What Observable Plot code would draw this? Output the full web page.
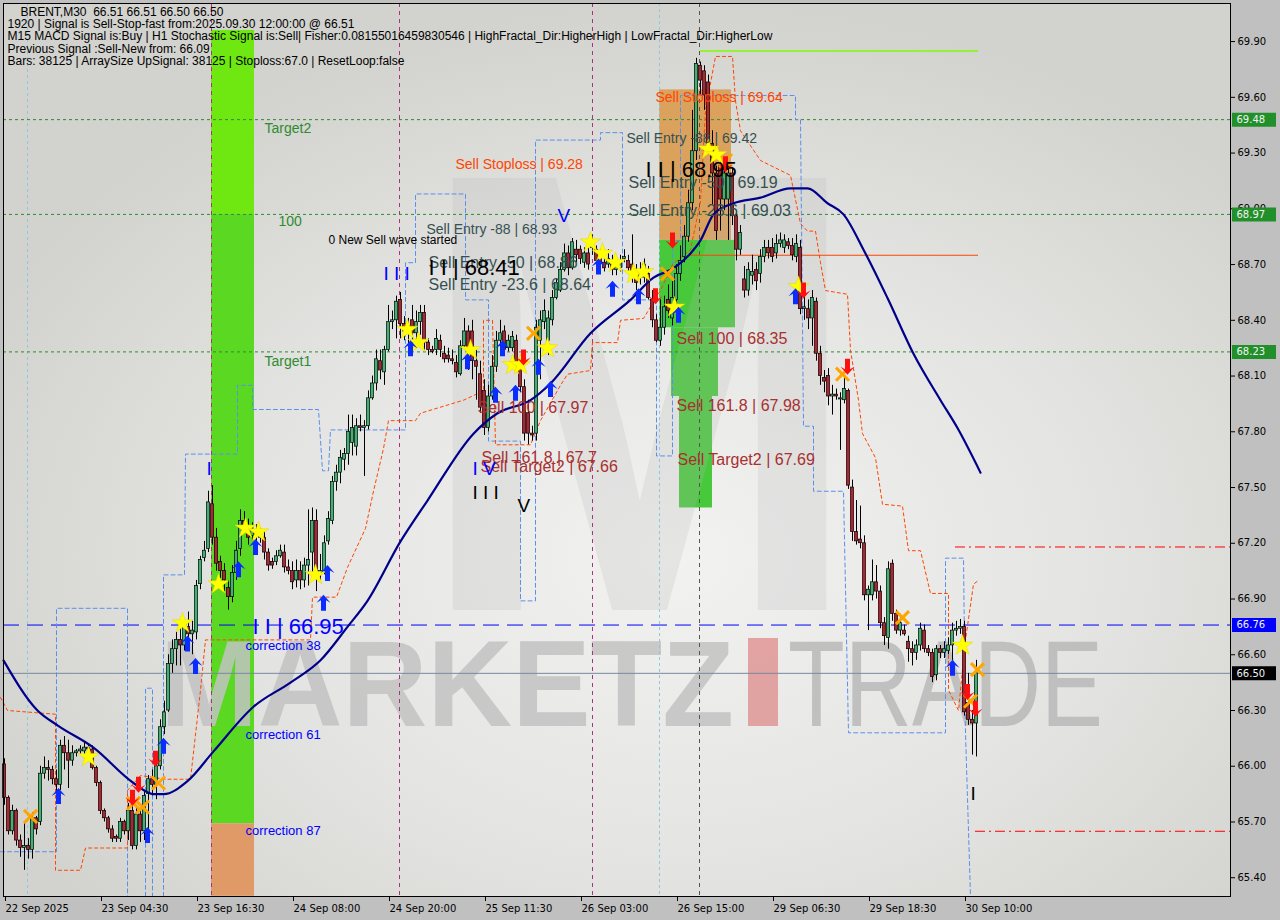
<!DOCTYPE html>
<html><head><meta charset="utf-8">
<script src="https://cdn.jsdelivr.net/npm/d3@7"></script>
<script src="https://cdn.jsdelivr.net/npm/@observablehq/plot@0.6"></script>
<style>html,body{margin:0;padding:0;background:#c0c0c0;overflow:hidden;width:1280px;height:920px}#chart{position:absolute;left:0;top:0}</style>
</head><body><div id="chart"></div>
<script>
// ---------- DATA ----------
const timeLabels = ["22 Sep 2025","23 Sep 04:30","23 Sep 16:30","24 Sep 08:00","24 Sep 20:00","25 Sep 11:30","26 Sep 03:00","26 Sep 15:00","29 Sep 06:30","29 Sep 18:30","30 Sep 10:00"];
const timeTickBars = [0,24,48,72,96,120,144,168,192,216,240];
const priceTicks = [69.9,69.6,69.3,69.0,68.7,68.4,68.1,67.8,67.5,67.2,66.9,66.6,66.3,66.0,65.7,65.4];

const open = [66.01,65.83,65.65,65.76,65.60,65.56,65.57,65.55,65.72,65.70,
65.96,65.99,65.98,65.93,65.90,66.11,66.07,66.03,66.07,66.08,
66.08,66.10,66.09,65.99,65.91,65.76,65.72,65.66,65.62,65.61,
65.70,65.65,65.76,65.57,65.74,65.65,65.85,65.93,65.90,66.00,
66.21,66.30,66.55,66.63,66.68,66.65,66.75,66.71,66.72,66.98,
67.12,67.17,67.41,67.23,67.10,67.05,66.96,66.91,67.04,67.17,
67.32,67.29,67.24,67.27,67.24,67.23,67.15,67.10,67.10,67.13,
67.15,67.07,67.05,67.00,67.05,67.00,67.08,67.15,67.32,67.03,
67.05,67.21,67.32,67.53,67.58,67.65,67.68,67.74,67.72,67.83,
67.82,67.83,67.98,68.06,68.18,68.12,68.24,68.39,68.40,68.51,
68.38,68.34,68.40,68.33,68.39,68.44,68.28,68.24,68.24,68.29,
68.22,68.21,68.19,68.17,68.11,68.26,68.34,68.34,68.18,68.11,
68.02,67.82,67.99,68.15,68.29,68.34,68.25,68.25,68.29,68.18,
68.04,67.90,67.79,67.79,68.29,68.39,68.29,68.40,68.52,68.56,
68.67,68.76,68.68,68.78,68.78,68.71,68.76,68.79,68.78,68.73,
68.71,68.70,68.70,68.67,68.68,68.73,68.72,68.70,68.63,68.65,
68.63,68.65,68.51,68.40,68.29,68.36,68.51,68.41,68.51,68.65,
68.74,68.85,69.03,69.31,69.77,69.74,69.68,69.35,69.19,69.23,
69.05,69.05,69.19,68.96,68.78,68.62,68.56,68.64,68.67,68.65,
68.74,68.79,68.79,68.76,68.81,68.79,68.82,68.80,68.74,68.79,
68.46,68.46,68.41,68.50,68.22,68.09,68.10,67.99,68.00,67.98,
67.97,68.02,67.50,67.26,67.22,67.20,66.92,66.92,66.99,66.94,
66.77,66.69,67.09,66.82,66.73,66.73,66.67,66.63,66.61,66.65,
66.73,66.63,66.61,66.49,66.63,66.61,66.62,66.65,66.73,66.74,
66.75,66.34,66.25,66.23];
const high = [66.04,65.84,65.79,65.77,65.63,65.69,65.61,65.75,65.73,66.00,
66.05,66.03,66.00,65.98,66.14,66.16,66.14,66.11,66.09,66.11,
66.13,66.12,66.11,66.00,65.92,65.77,65.73,65.68,65.63,65.72,
65.71,65.80,65.79,65.78,65.77,65.87,65.95,65.98,66.06,66.25,
66.35,66.60,66.68,66.72,66.76,66.78,66.83,66.78,67.00,67.13,
67.21,67.48,67.51,67.28,67.13,67.09,67.00,67.08,67.21,67.38,
67.37,67.33,67.31,67.30,67.28,67.27,67.17,67.12,67.16,67.19,
67.19,67.11,67.10,67.11,67.10,67.12,67.38,67.39,67.38,67.14,
67.24,67.37,67.56,67.62,67.70,67.71,67.89,67.89,67.87,67.89,
67.86,68.02,68.10,68.24,68.24,68.26,68.48,68.45,68.53,68.55,
68.42,68.41,68.48,68.45,68.48,68.48,68.30,68.26,68.35,68.32,
68.26,68.25,68.24,68.21,68.29,68.41,68.37,68.40,68.24,68.18,
68.08,68.05,68.21,68.34,68.40,68.37,68.32,68.34,68.32,68.21,
68.08,67.97,67.83,68.40,68.45,68.51,68.45,68.56,68.62,68.71,
68.81,68.80,68.84,68.83,68.80,68.79,68.83,68.86,68.80,68.78,
68.75,68.78,68.75,68.73,68.75,68.78,68.75,68.86,68.70,68.71,
68.73,68.69,68.56,68.43,68.51,68.53,68.59,68.61,68.70,68.80,
68.91,69.10,69.53,69.81,69.79,69.77,69.72,69.42,69.23,69.26,
69.23,69.23,69.22,68.99,68.91,68.69,68.71,68.75,68.71,68.78,
68.83,68.83,68.84,68.86,68.87,68.86,68.84,68.84,68.86,68.83,
68.53,68.51,68.56,68.52,68.26,68.13,68.14,68.05,68.03,68.01,
68.10,68.03,67.54,67.43,67.40,67.24,66.97,67.11,67.08,66.97,
66.80,67.10,67.11,66.84,66.81,66.76,66.70,66.67,66.68,66.77,
66.76,66.65,66.63,66.65,66.65,66.67,66.69,66.77,66.78,66.79,
66.78,66.50,66.30,66.57];
const low = [65.79,65.63,65.63,65.57,65.51,65.44,65.50,65.50,65.63,65.68,
65.93,65.92,65.90,65.82,65.87,65.98,65.88,66.00,66.05,66.06,
66.04,66.07,65.98,65.89,65.74,65.70,65.64,65.59,65.59,65.59,
65.63,65.60,65.55,65.55,65.59,65.60,65.65,65.84,65.82,65.98,
66.17,66.29,66.50,66.54,66.54,66.62,66.65,66.60,66.68,66.95,
67.10,67.15,67.19,67.05,67.01,66.94,66.84,66.88,67.00,67.13,
67.26,67.19,67.21,67.21,67.20,67.11,67.05,67.06,67.08,67.12,
67.04,67.03,66.95,66.96,66.95,66.96,66.97,67.01,66.94,67.00,
67.03,67.19,67.30,67.48,67.52,67.59,67.62,67.67,67.67,67.80,
67.56,67.81,67.97,68.02,68.08,68.05,68.23,68.35,68.30,68.30,
68.29,68.26,68.26,68.29,68.32,68.24,68.21,68.22,68.21,68.20,
68.17,68.17,68.16,68.09,68.10,68.24,68.13,68.08,67.97,67.90,
67.78,67.80,67.97,68.12,68.26,68.21,68.23,68.23,68.14,68.01,
67.75,67.73,67.75,67.75,68.08,68.35,68.21,68.37,68.51,68.55,
68.66,68.64,68.67,68.71,68.70,68.68,68.67,68.75,68.70,68.67,
68.66,68.68,68.64,68.64,68.66,68.71,68.66,68.60,68.56,68.59,
68.60,68.51,68.36,68.28,68.26,68.32,68.41,68.37,68.48,68.61,
68.71,68.82,68.99,69.26,69.61,69.53,69.31,69.02,68.83,68.88,
68.99,68.83,68.91,68.72,68.75,68.52,68.53,68.59,68.56,68.60,
68.71,68.73,68.71,68.73,68.79,68.76,68.78,68.72,68.71,68.43,
68.40,68.35,68.26,68.18,68.05,68.01,67.94,67.89,67.97,67.70,
67.95,67.49,67.21,67.19,67.17,66.89,66.73,66.89,66.90,66.74,
66.65,66.63,66.78,66.71,66.70,66.70,66.56,66.54,66.57,66.62,
66.61,66.59,66.45,66.46,66.58,66.58,66.60,66.57,66.70,66.71,
66.27,66.22,66.06,66.05];
const close = [65.83,65.65,65.76,65.60,65.56,65.57,65.55,65.72,65.66,65.96,
65.99,65.98,65.93,65.90,66.11,66.07,66.03,66.07,66.08,66.09,
66.10,66.09,65.99,65.91,65.76,65.72,65.66,65.61,65.61,65.70,
65.65,65.76,65.57,65.74,65.65,65.84,65.93,65.90,66.00,66.21,
66.29,66.55,66.63,66.68,66.65,66.75,66.71,66.73,66.97,67.11,
67.16,67.42,67.23,67.09,67.05,67.00,66.91,67.04,67.16,67.32,
67.29,67.23,67.27,67.24,67.23,67.15,67.08,67.08,67.13,67.16,
67.07,67.05,66.99,67.05,67.00,67.08,67.11,67.32,67.04,67.05,
67.20,67.33,67.53,67.58,67.66,67.68,67.80,67.82,67.83,67.82,
67.83,67.98,68.06,68.19,68.13,68.24,68.39,68.40,68.50,68.38,
68.34,68.37,68.33,68.39,68.44,68.28,68.24,68.23,68.30,68.24,
68.19,68.19,68.18,68.12,68.26,68.34,68.25,68.18,68.15,67.93,
67.82,67.99,68.15,68.29,68.33,68.24,68.29,68.31,68.17,68.04,
67.79,67.79,67.78,68.36,68.40,68.45,68.41,68.52,68.60,68.67,
68.76,68.68,68.82,68.75,68.73,68.76,68.70,68.81,68.72,68.71,
68.68,68.73,68.67,68.70,68.72,68.74,68.68,68.63,68.60,68.63,
68.70,68.52,68.40,68.29,68.36,68.47,68.45,68.52,68.65,68.72,
68.85,69.03,69.31,69.78,69.69,69.61,69.35,69.19,68.88,69.05,
69.19,69.19,68.96,68.78,68.87,68.56,68.67,68.66,68.61,68.74,
68.79,68.76,68.74,68.81,68.83,68.83,68.80,68.75,68.81,68.46,
68.47,68.41,68.52,68.22,68.10,68.07,67.99,68.00,67.99,67.98,
68.03,67.51,67.26,67.21,67.20,66.92,66.95,66.99,66.94,66.77,
66.70,67.06,66.82,66.73,66.77,66.71,66.63,66.61,66.65,66.74,
66.63,66.61,66.48,66.63,66.61,66.63,66.65,66.73,66.74,66.75,
66.29,66.25,66.23,66.50];

// moving average: bar index / price
const maBars   = [-0.25,8.25,13.25,22.25,32.25,37.25,39.75,45.75,52.25,62.25,71.5,79,85.75,90.75,99,105.75,117.25,123.25,131.5,136.5,146.5,156.5,162.25,167.25,171.5,174,177.25,182.25,189,196.5,200.75,205.75,209.75,214.75,220.75,227.25,234,238.25,244];
const maPrices = [66.57,66.30,66.22,66.10,65.91,65.85,65.85,65.92,66.08,66.32,66.45,66.57,66.75,66.89,67.21,67.43,67.79,67.90,67.97,68.06,68.33,68.51,68.63,68.68,68.76,68.83,68.97,69.03,69.06,69.11,69.11,69.03,68.97,68.78,68.52,68.22,67.97,67.82,67.58];

// blue dashed fractal channel: [segment, bar, price]
const bluePath = [
[1,-1,65.54],[1,13,65.54],[1,13,66.85],[1,30.75,66.85],[1,30.75,65.30],
[2,35.25,65.30],[2,35.25,66.42],[2,37,66.42],[2,37,65.30],
[3,39.75,65.30],[3,39.75,67.03],[3,45,67.03],[3,45.25,67.68],[3,58.25,67.68],[3,58.25,68.05],[3,62,68.05],[3,62,67.92],[3,78.5,67.92],[3,79.5,67.59],[3,81,67.59],[3,81.5,67.81],[3,100.25,67.81],[3,100.25,68.71],[3,102.75,68.71],[3,102.75,69.08],[3,115.25,69.08],[3,115.25,68.51],[3,121,68.51],[3,121,67.75],[3,129,67.75],[3,129,66.89],[3,132.75,66.89],[3,132.75,69.37],[3,149,69.37],[3,149,69.41],[3,154.5,69.41],[3,154.5,68.51],[3,163,68.51],[3,163,67.67],[3,167,67.67],[3,167,68.83],[3,169,68.83],[3,169,69.61],[3,197.75,69.61],[3,197.75,69.48],[3,199,69.48],[3,199.75,67.83],[3,202.25,67.83],[3,202.25,67.48],[3,209.75,67.48],[3,211,66.18],[3,235.25,66.18],[3,235.25,67.12],[3,239.75,67.12],[3,240.25,66.18],[3,241.5,65.30]];

// orange dotted stop line: [bar, price]
const orangePath = [[-1,66.37],[0.75,66.30],[12.75,66.28],[12.75,65.44],[19,65.44],[20.25,65.56],[30.75,65.56],[30.75,65.87],[34,65.95],[40.25,65.93],[46.5,65.93],[49,66.41],[50.25,66.68],[76.5,66.68],[77,66.91],[83,66.91],[85.75,67.07],[90.25,67.28],[92.25,67.48],[94.75,67.71],[96,67.86],[102.75,67.86],[104,67.90],[114.75,67.97],[119.75,68.02],[119.75,68.40],[122,68.40],[122.75,67.73],[131.5,67.73],[134,67.86],[139,68.05],[140.75,68.11],[146.5,68.13],[147,68.28],[153.25,68.28],[154,68.40],[159.75,68.41],[164,68.56],[167,68.70],[171.5,68.78],[174,69.04],[175.25,69.53],[177.75,69.82],[182,69.82],[182.75,69.58],[184,69.42],[189,69.26],[196.5,69.18],[199,68.92],[200.75,68.88],[202.75,68.88],[204,68.71],[205.25,68.56],[210.75,68.54],[211.5,68.24],[213.5,67.97],[214.5,67.79],[217.75,67.66],[219.5,67.41],[224.5,67.40],[226,67.16],[229,67.16],[231.5,66.93],[236,66.93],[236,66.41],[238.5,66.30],[240.25,66.68],[242.25,66.98],[243.5,67.00]];

// signal markers: [bar, price]
const stars = [[21,66.05],[44.5,66.77],[53.5,66.98],[60.25,67.28],[63.5,67.26],[77.75,67.03],[100.75,68.35],[103.5,68.28],[116.5,68.24],[127,68.16],[129,68.16],[135.75,68.25],[146.5,68.82],[149.5,68.76],[152.75,68.71],[157.25,68.65],[159.75,68.66],[167.5,68.47],[176,69.32],[178,69.29],[198.5,68.58],[239.5,66.65]];
const buyArrows = [[13.5,65.84],[35.75,65.63],[39.75,66.11],[45.75,66.66],[47.75,66.54],[58.5,67.06],[62.75,67.18],[79.75,66.88],[80.75,67.04],[101.5,68.25],[115.75,68.18],[122.75,68.00],[124.5,68.25],[127.75,68.01],[133.5,68.15],[136.5,68.03],[148.5,68.69],[152,68.57],[158.5,68.53],[168.5,68.43],[197.75,68.53],[237,66.53]];
const sellArrows = [[32,65.83],[33.5,65.90],[37.75,66.04],[129.75,68.20],[162.75,68.53],[167,68.83],[180.25,69.24],[199.75,68.56],[210.75,68.15],[240.75,66.40],[242.75,66.31]];
const crosses = [[6.5,65.73],[32.25,65.80],[34.5,65.78],[38.5,65.91],[132.25,68.33],[165.75,68.65],[180.25,69.26],[209.5,68.11],[224.5,66.80],[241.5,66.35],[243.25,66.52]];

// levels
const greenLevels = [69.48, 68.97, 68.23];
const blueLevel = [66.76];
const lastPrice = [66.50];
const redDashLevels = [[237.75, 67.18], [242.75, 65.65]];
const stopLine = [[171.5, 243.5, 68.75]];
const limeLine = [[174, 243.5, 69.85]];
const eventBars = [51.75, 98.75, 147];
const markerBars = [173.75];
const sessionBars = [5.75, 163.75];

// zones: [bar1, bar2, priceTop, priceBottom]
const zoneTarget = [[51.75, 62.5, 69.96, 68.97]];
const zoneMain = [[51.75, 62.5, 68.97, 65.69]];
const zoneDeep = [[51.75, 62.5, 65.69, 65.30]];
const sellZoneStop = [[163.75, 181.75, 69.64, 68.83]];
const sellZoneTake = [[163.75, 182.75, 68.83, 68.36], [166.75, 178.5, 68.36, 67.99], [168.75, 177, 67.99, 67.39]];

// text annotations: [text, bar, price]
const targetLabels = [["Target2",65,69.43],["100",68.5,68.93],["Target1",65,68.18]];
const entry88Labels = [["Sell Entry -88 | 68.93",105.5,68.89],["Sell Entry -88 | 69.42",155.5,69.38]];
const entryLabels = [["Sell Entry -50 | 68.86",106,68.71],["Sell Entry -23.6 | 68.64",106,68.59],["Sell Entry -50 | 69.19",156,69.14],["Sell Entry -23.6 | 69.03",156,68.99]];
const stopLabels = [["Sell Stoploss | 69.28",112.75,69.24],["Sell Stoploss | 69.64",162.75,69.60]];
const sellLabels = [["Sell 100 | 68.35",168,68.30],["Sell 161.8 | 67.98",168,67.94],["Sell Target2 | 67.69",168.25,67.65],["Sell 100 | 67.97",118.25,67.93],["Sell 161.8 | 67.7",119.25,67.66],["Sell Target2 | 67.66",119,67.61]];
const correctionLabels = [["correction 38",60.25,66.65],["correction 61",60.25,66.17],["correction 87",60.25,65.65]];
const blueWaves = [["I I I",94.75,68.65],["V",138.25,68.96],["I V",117,67.60],["I",50.5,67.60]];
const blackWaves = [["I I I",117,67.47],["V",128.25,67.40],["I",241.5,65.85]];
const pivotBlack = [["I I | 68.41",106,68.68],["I I | 68.95",160.25,69.21]];
const pivotBlue = [["I I | 66.95",62,66.75]];
const noteLabels = [["0 New Sell wave started",81,68.83]];

const headerTitle = ["BRENT,M30  66.51 66.51 66.50 66.50"];
const headerLines = ["1920 | Signal is Sell-Stop-fast from:2025.09.30 12:00:00 @ 66.51",
"M15 MACD Signal is:Buy | H1 Stochastic Signal is:Sell| Fisher:0.08155016459830546 | HighFractal_Dir:HigherHigh | LowFractal_Dir:HigherLow",
"Previous Signal :Sell-New from: 66.09",
"Bars: 38125 | ArraySize UpSignal: 38125 | Stoploss:67.0 | ResetLoop:false"];

const greenTags = [69.48, 68.97, 68.23];
const blueTags = [66.76];
const blackTags = [66.50];

// ---------- CHART ----------
const xDomain = [-0.25, 306.5];
const yDomain = [65.299, 70.105];
const candles = open.map((o, i) => ({i, o, h: high[i], l: low[i], c: close[i]}));

const arrowUp = {draw(p){p.moveTo(0,-8);p.lineTo(7,0);p.lineTo(2.5,-2.5);p.lineTo(2.5,8);p.lineTo(-2.5,8);p.lineTo(-2.5,-2.5);p.lineTo(-7,0);p.closePath();}};
const arrowDown = {draw(p){p.moveTo(0,8);p.lineTo(7,0);p.lineTo(2.5,2.5);p.lineTo(2.5,-8);p.lineTo(-2.5,-8);p.lineTo(-2.5,2.5);p.lineTo(-7,0);p.closePath();}};
const tagBox = {draw(p){p.rect(-22,-7,44,14);}};

const F = "Liberation Sans, Arial, sans-serif";
const txt = (data, opts) => Plot.text(data, {x: d => d[1], y: d => d[2], text: d => d[0], textAnchor: "start", fontFamily: F, ...opts});
const zone = (data, fill, extra={}) => Plot.rect(data, {x1: d => d[0], x2: d => d[1], y1: d => d[2], y2: d => d[3], fill, ...extra});

const plot = Plot.plot({
  width: 1280, height: 920,
  marginLeft: 3, marginRight: 50, marginTop: 3, marginBottom: 24,
  x: {domain: xDomain},
  y: {domain: yDomain},
  color: {type: "identity"},
  style: {background: "transparent", fontFamily: "DejaVu Sans, sans-serif", fontSize: "10px", overflow: "visible"},
  marks: [
    Plot.frame({fill: "url(#bgGrad)", stroke: "none"}),
    zone(zoneTarget, "#6fe812"),
    zone(zoneMain, "#5bd922"),
    zone(zoneDeep, "#e09a68"),
    zone(sellZoneStop, "#dba25e"),
    zone(sellZoneTake, "#48c93c"),
    Plot.ruleX(eventBars, {x: d => d, stroke: "#b0307a", strokeDasharray: "4,4", strokeWidth: 1}),
    Plot.ruleX(markerBars, {x: d => d, stroke: "#555555", strokeDasharray: "4,4", strokeWidth: 1}),
    Plot.ruleX(sessionBars, {x: d => d, stroke: "#8fc7dc", strokeDasharray: "3,3", strokeWidth: 1}),
    Plot.ruleY(greenLevels, {y: d => d, stroke: "#2e8b2e", strokeDasharray: "3,3", strokeWidth: 1}),
    Plot.ruleY(blueLevel, {y: d => d, stroke: "#0000ff", strokeDasharray: "16,8", strokeWidth: 1}),
    Plot.ruleY(lastPrice, {y: d => d, stroke: "#778a9e", strokeWidth: 1}),
    Plot.ruleY(redDashLevels, {y: d => d[1], x1: d => d[0], x2: () => xDomain[1], stroke: "#ff0000", strokeDasharray: "10,4,2,4", strokeWidth: 1}),
    Plot.ruleY(stopLine, {y: d => d[2], x1: d => d[0], x2: d => d[1], stroke: "#ff4500", strokeWidth: 1.2}),
    Plot.ruleY(limeLine, {y: d => d[2], x1: d => d[0], x2: d => d[1], stroke: "#7cfc00", strokeWidth: 1.5}),
    Plot.line(bluePath, {x: d => d[1], y: d => d[2], z: d => d[0], stroke: "#5b8fee", strokeWidth: 1, strokeDasharray: "4,3"}),
    Plot.line(orangePath, {x: d => d[0], y: d => d[1], stroke: "#ff4500", strokeWidth: 1, strokeDasharray: "3,3"}),
    Plot.ruleX(candles, {x: "i", y1: "l", y2: "h", stroke: "black", strokeWidth: 1}),
    Plot.rect(candles, {x1: d => d.i - 0.38, x2: d => d.i + 0.38, y1: "o", y2: d => Math.abs(d.c - d.o) < 0.006 ? d.o - 0.006 : d.c,
      fill: d => d.c >= d.o ? "#3cb371" : "#b2222f", stroke: "black", strokeWidth: 0.7}),
    Plot.line(maBars.map((b, k) => [b, maPrices[k]]), {x: d => d[0], y: d => d[1], stroke: "#00008b", strokeWidth: 2.2, curve: "monotone-x"}),
    Plot.dot(crosses, {x: d => d[0], y: d => d[1], symbol: "times", r: 6, stroke: "#ffa500", strokeWidth: 3}),
    Plot.dot(stars, {x: d => d[0], y: d => d[1], symbol: "star", r: 6.5, fill: "#ffff00", stroke: "#e6d200", strokeWidth: 0.5}),
    Plot.dot(buyArrows, {x: d => d[0], y: d => d[1], symbol: arrowUp, r: 5, fill: "#0a2cff"}),
    Plot.dot(sellArrows, {x: d => d[0], y: d => d[1], symbol: arrowDown, r: 5, fill: "#ff1010"}),
    txt(targetLabels, {fill: "#2e8b2e", fontSize: 14}),
    txt(entry88Labels, {fill: "#365050", fontSize: 14}),
    txt(entryLabels, {fill: "#365050", fontSize: 16}),
    txt(stopLabels, {fill: "#ff4500", fontSize: 14}),
    txt(sellLabels, {fill: "#a83030", fontSize: 16}),
    txt(correctionLabels, {fill: "#0000ff", fontSize: 13}),
    txt(blueWaves, {fill: "#0000ff", fontSize: 19}),
    txt(blackWaves, {fill: "#000000", fontSize: 19}),
    txt(pivotBlack, {fill: "#000000", fontSize: 22}),
    txt(pivotBlue, {fill: "#0000ff", fontSize: 22}),
    txt(noteLabels, {fill: "#000000", fontSize: 12}),
    Plot.text(headerTitle, {frameAnchor: "top-left", text: d => d, dx: 17, dy: 4, lineAnchor: "top", textAnchor: "start", fontFamily: F, fontSize: 12, fill: "black"}),
    Plot.text([headerLines.join("\n")], {frameAnchor: "top-left", text: d => d, dx: 4, dy: 16, lineAnchor: "top", lineHeight: 1.02, textAnchor: "start", fontFamily: F, fontSize: 12, fill: "black"}),
    Plot.axisX({ticks: timeTickBars, tickFormat: d => timeLabels[timeTickBars.indexOf(d)], tickSize: 5, tickPadding: 3, textAnchor: "start", dx: 1, label: null, fontSize: 10, fill: "black"}),
    Plot.axisY({anchor: "right", ticks: priceTicks, tickFormat: d => d.toFixed(2), tickSize: 4, tickPadding: 3, label: null, fontSize: 10, fill: "black"}),
    Plot.dot(greenTags, {x: () => xDomain[1], y: d => d, symbol: tagBox, r: 5, fill: "#22902a", dx: 23.5}),
    Plot.dot(blueTags, {x: () => xDomain[1], y: d => d, symbol: tagBox, r: 5, fill: "#0000ff", dx: 23.5}),
    Plot.dot(blackTags, {x: () => xDomain[1], y: d => d, symbol: tagBox, r: 5, fill: "#000000", dx: 23.5}),
    Plot.text([...greenTags, ...blueTags, ...blackTags], {x: () => xDomain[1], y: d => d, text: d => d.toFixed(2), dx: 6, textAnchor: "start", fill: "#f2f2f2", fontSize: 10}),
    Plot.frame({stroke: "black", fill: "none"})
  ]
});
document.getElementById("chart").appendChild(plot);

// background gradient + watermark (decoration), placed under the indicator lines and candles
const svg = d3.select(plot);
svg.insert("defs", ":first-child").html(
  `<radialGradient id="bgGrad" cx="0.55" cy="0.62" r="0.62">
     <stop offset="0" stop-color="#f2f2f1"/><stop offset="0.55" stop-color="#e4e4e2"/><stop offset="1" stop-color="#d2d2ce"/>
   </radialGradient>`);
const anchor = plot.querySelector('g[aria-label="rule"]');
const wm = document.createElementNS("http://www.w3.org/2000/svg", "g");
if (anchor) anchor.parentNode.insertBefore(wm, anchor); else plot.appendChild(wm);
const w = d3.select(wm).attr("font-family", F).attr("text-anchor", "start");
w.append("text").text("M").attr("x", 417).attr("y", 610).attr("font-size", 628).attr("font-weight", "bold")
  .attr("textLength", 445).attr("lengthAdjust", "spacingAndGlyphs").attr("fill", "#b8b8b8").attr("fill-opacity", 0.22);
w.append("text").text("MARKETZ").attr("x", 160).attr("y", 726).attr("font-size", 122).attr("font-weight", "bold")
  .attr("textLength", 574).attr("lengthAdjust", "spacingAndGlyphs").attr("fill", "#c2c2c2").attr("fill-opacity", 0.85);
w.append("rect").attr("x", 748).attr("y", 638).attr("width", 30).attr("height", 88).attr("fill", "#e09a9a").attr("fill-opacity", 0.9);
w.append("text").text("TRADE").attr("x", 788).attr("y", 726).attr("font-size", 122)
  .attr("textLength", 315).attr("lengthAdjust", "spacingAndGlyphs").attr("fill", "#b8b8b8").attr("fill-opacity", 0.85);
</script>
</body></html>
